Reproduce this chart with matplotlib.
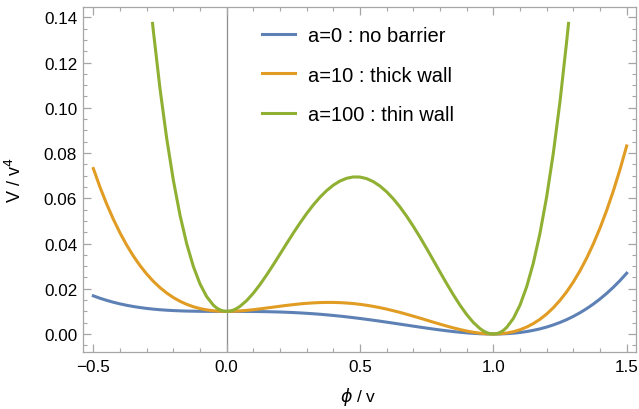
import matplotlib
matplotlib.use("Agg")
import matplotlib.pyplot as plt
from matplotlib.ticker import MultipleLocator

plt.rcParams['font.family'] = ['Liberation Sans', 'DejaVu Sans']

# phi / v sample points (shared by the a=0 and a=10 curves)
phi = [-0.500, -0.475, -0.450, -0.425, -0.400, -0.375, -0.350, -0.325, -0.300, -0.275,
       -0.250, -0.225, -0.200, -0.175, -0.150, -0.125, -0.100, -0.075, -0.050, -0.025,
       0.000, 0.025, 0.050, 0.075, 0.100, 0.125, 0.150, 0.175, 0.200, 0.225,
       0.250, 0.275, 0.300, 0.325, 0.350, 0.375, 0.400, 0.425, 0.450, 0.475,
       0.500, 0.525, 0.550, 0.575, 0.600, 0.625, 0.650, 0.675, 0.700, 0.725,
       0.750, 0.775, 0.800, 0.825, 0.850, 0.875, 0.900, 0.925, 0.950, 0.975,
       1.000, 1.025, 1.050, 1.075, 1.100, 1.125, 1.150, 1.175, 1.200, 1.225,
       1.250, 1.275, 1.300, 1.325, 1.350, 1.375, 1.400, 1.425, 1.450, 1.475,
       1.500]

# a=0 : no barrier
v_a0 = [0.01688, 0.01581, 0.01488, 0.01405, 0.01333, 0.01270, 0.01217, 0.01171, 0.01132, 0.01100,
        0.01074, 0.01053, 0.01037, 0.01024, 0.01015, 0.01009, 0.01004, 0.01002, 0.01001, 0.01000,
        0.01000, 0.01000, 0.00999, 0.00998, 0.00996, 0.00993, 0.00988, 0.00981, 0.00973, 0.00962,
        0.00949, 0.00934, 0.00916, 0.00896, 0.00874, 0.00848, 0.00821, 0.00791, 0.00759, 0.00724,
        0.00688, 0.00649, 0.00609, 0.00568, 0.00525, 0.00481, 0.00437, 0.00393, 0.00348, 0.00305,
        0.00262, 0.00220, 0.00181, 0.00144, 0.00110, 0.00079, 0.00052, 0.00030, 0.00014, 0.00004,
        0.00000, 0.00004, 0.00016, 0.00037, 0.00068, 0.00110, 0.00164, 0.00229, 0.00309, 0.00403,
        0.00512, 0.00637, 0.00780, 0.00942, 0.01123, 0.01325, 0.01549, 0.01796, 0.02067, 0.02364,
        0.02688]

# a=10 : thick wall
v_a10 = [0.07313, 0.06490, 0.05745, 0.05073, 0.04469, 0.03929, 0.03449, 0.03025, 0.02653, 0.02329,
         0.02051, 0.01813, 0.01613, 0.01447, 0.01313, 0.01207, 0.01125, 0.01067, 0.01028, 0.01007,
         0.01000, 0.01006, 0.01022, 0.01046, 0.01077, 0.01113, 0.01151, 0.01189, 0.01229, 0.01266,
         0.01300, 0.01332, 0.01357, 0.01377, 0.01391, 0.01397, 0.01397, 0.01388, 0.01370, 0.01346,
         0.01313, 0.01271, 0.01222, 0.01165, 0.01101, 0.01030, 0.00955, 0.00874, 0.00789, 0.00703,
         0.00613, 0.00524, 0.00437, 0.00352, 0.00273, 0.00199, 0.00133, 0.00078, 0.00037, 0.00010,
         0.00000, 0.00011, 0.00044, 0.00102, 0.00189, 0.00308, 0.00462, 0.00652, 0.00885, 0.01163,
         0.01489, 0.01866, 0.02301, 0.02796, 0.03356, 0.03984, 0.04685, 0.05464, 0.06325, 0.07273,
         0.08313]

# a=100 : thin wall (cut at the top of the plot range)
phi_a100 = [-0.278, -0.275, -0.250, -0.225, -0.200, -0.175, -0.150, -0.125, -0.100, -0.075,
            -0.050, -0.0375, -0.025, -0.0125, 0.000, 0.0125, 0.025, 0.0375, 0.050, 0.075,
            0.100, 0.125, 0.150, 0.175, 0.200, 0.225, 0.250, 0.275, 0.300, 0.325,
            0.350, 0.375, 0.400, 0.425, 0.450, 0.475, 0.500, 0.525, 0.550, 0.575,
            0.600, 0.625, 0.650, 0.675, 0.700, 0.725, 0.750, 0.775, 0.800, 0.825,
            0.850, 0.875, 0.900, 0.925, 0.950, 0.9625, 0.975, 0.9875, 1.000, 1.0125,
            1.025, 1.0375, 1.050, 1.075, 1.100, 1.125, 1.150, 1.175, 1.200, 1.225,
            1.250, 1.275, 1.282]
v_a100 = [0.13730, 0.13394, 0.10840, 0.08650, 0.06797, 0.05252, 0.03991, 0.02987, 0.02214, 0.01652,
          0.01276, 0.01152, 0.01066, 0.01016, 0.01000, 0.01015, 0.01059, 0.01130, 0.01225, 0.01479,
          0.01806, 0.02189, 0.02614, 0.03065, 0.03533, 0.04003, 0.04465, 0.04909, 0.05326, 0.05709,
          0.06049, 0.06341, 0.06581, 0.06763, 0.06884, 0.06943, 0.06938, 0.06868, 0.06735, 0.06540,
          0.06285, 0.05974, 0.05613, 0.05206, 0.04758, 0.04280, 0.03777, 0.03261, 0.02741, 0.02228,
          0.01735, 0.01275, 0.00862, 0.00511, 0.00240, 0.00138, 0.00063, 0.00016, 0.00000, 0.00017,
          0.00070, 0.00160, 0.00292, 0.00687, 0.01278, 0.02088, 0.03139, 0.04457, 0.06069, 0.07999,
          0.10277, 0.12931, 0.13730]

labels = ["a=0 : no barrier", "a=10 : thick wall", "a=100 : thin wall"]
colors = ["#5e81b5", "#e19c24", "#8fb032"]

fig = plt.figure(figsize=(6.39, 4.10), dpi=100)
ax = fig.add_axes([0.1294, 0.1398, 0.8659, 0.8399])

# vertical axis line at phi = 0
ax.axvline(0, color="#8c8c8c", lw=0.9, zorder=1)

ax.plot(phi, v_a0, color=colors[0], lw=2.2, label=labels[0])
ax.plot(phi, v_a10, color=colors[1], lw=2.2, label=labels[1])
ax.plot(phi_a100, v_a100, color=colors[2], lw=2.2, label=labels[2])

ax.set_xlim(-0.54, 1.535)
ax.set_ylim(-0.0078, 0.1444)

# Mathematica-like frame with inward ticks on all sides
for s in ax.spines.values():
    s.set_color("#a6a6a6")
    s.set_linewidth(0.9)
ax.xaxis.set_major_locator(MultipleLocator(0.5))
ax.xaxis.set_minor_locator(MultipleLocator(0.1))
ax.yaxis.set_major_locator(MultipleLocator(0.02))
ax.yaxis.set_minor_locator(MultipleLocator(0.005))
ax.xaxis.set_major_formatter(plt.FuncFormatter(lambda v, p: f"{v:.1f}".replace("-", "\u2212")))
ax.yaxis.set_major_formatter(plt.FuncFormatter(lambda v, p: f"{v:.2f}".replace("-", "\u2212")))
ax.tick_params(which="both", direction="in", top=True, right=True, color="#a6a6a6",
               labelsize=12.3, labelcolor="black")
ax.tick_params(which="major", length=5.5, width=0.9)
ax.tick_params(which="minor", length=3, width=0.8)
ax.tick_params(axis="x", pad=5.5)
ax.tick_params(axis="y", pad=4)

ax.set_xlabel(r"$\phi$ / v", fontsize=12.5)
ax.set_ylabel(r"V / v$^4$", fontsize=13)
ax.xaxis.set_label_coords(0.4976, -0.097)
ax.yaxis.set_label_coords(-0.104, 0.5)

ax.legend(loc="upper left", bbox_to_anchor=(0.31, 0.968), frameon=False, fontsize=14.5,
          handlelength=1.65, handletextpad=0.6, labelspacing=1.0, borderaxespad=0)

fig.savefig("out.png", dpi=100)
